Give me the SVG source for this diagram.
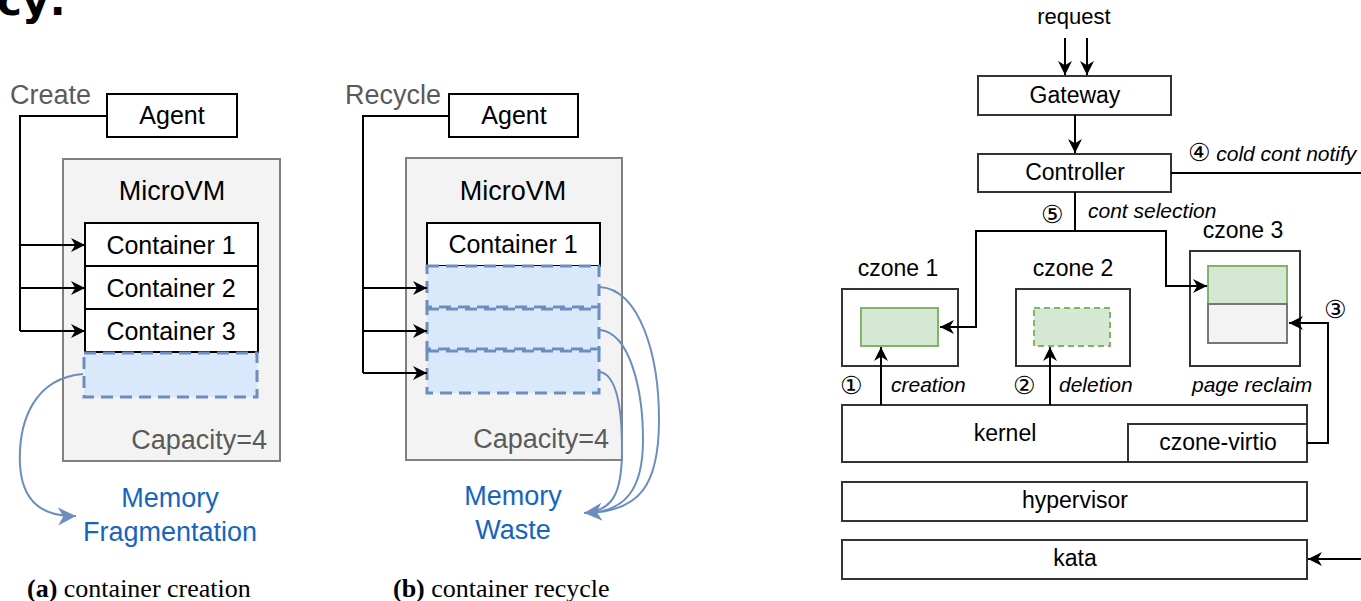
<svg xmlns="http://www.w3.org/2000/svg" width="1361" height="601" viewBox="0 0 1361 601">
<defs>
<style>
.s{font-family:"Liberation Sans",Arial,sans-serif}
.b{fill:#fff;stroke:#000;stroke-width:2}
.rb{fill:#fff;stroke:#333;stroke-width:2}
.vm{fill:#f3f3f3;stroke:#808080;stroke-width:2}
.dash{fill:#dae8fc;stroke:#6c8ebf;stroke-width:3;stroke-dasharray:12,7}
.ln{fill:none;stroke:#000;stroke-width:2}
.cv{fill:none;stroke:#6c8ebf;stroke-width:2}
.g{fill:#d5e8d4;stroke:#82b366;stroke-width:2}
.t{font-family:"Liberation Sans",Arial,sans-serif;fill:#000}
.it{font-family:"Liberation Sans",Arial,sans-serif;font-style:italic;fill:#000;font-size:21px}
.ci{font-family:"DejaVu Sans",sans-serif;font-style:normal}
.blue{font-family:"Liberation Sans",Arial,sans-serif;fill:#1565c0;font-size:27px}
.gray{font-family:"Liberation Sans",Arial,sans-serif;fill:#5a5a5a;font-size:27px}
.cap{font-family:"Liberation Serif","Times New Roman",serif;font-size:26px;fill:#000}
</style>
<marker id="ar" viewBox="0 0 10 10" refX="10" refY="5" markerWidth="14" markerHeight="14" markerUnits="userSpaceOnUse" orient="auto">
<path d="M0,0 L10,5 L0,10 L3,5 z" fill="#000"/>
</marker>
<marker id="arb" viewBox="0 0 10 10" refX="10" refY="5" markerWidth="18" markerHeight="18" markerUnits="userSpaceOnUse" orient="auto">
<path d="M0,0 L10,5 L0,10 L3,5 z" fill="#6c8ebf"/>
</marker>
</defs>

<text x="-3" y="15" font-family="DejaVu Sans,sans-serif" font-weight="bold" font-size="42" fill="#000">cy:</text>

<!-- Panel (a) -->
<g id="a-create-label"><text x="10" y="104" class="gray">Create</text></g>
<g id="a-agent"><rect x="107" y="94" width="130" height="43" class="b"/><text x="172" y="124" class="t" font-size="25" text-anchor="middle">Agent</text></g>
<g id="a-microvm"><rect x="63" y="159" width="217" height="302" class="vm"/><text x="172" y="200" class="t" font-size="27" text-anchor="middle">MicroVM</text>
<text x="267" y="449" class="gray" text-anchor="end">Capacity=4</text></g>
<g id="a-c1"><rect x="85" y="223" width="173" height="43" class="b"/><text x="171" y="254" class="t" font-size="25" text-anchor="middle">Container 1</text></g>
<g id="a-c2"><rect x="85" y="266" width="173" height="43" class="b"/><text x="171" y="297" class="t" font-size="25" text-anchor="middle">Container 2</text></g>
<g id="a-c3"><rect x="85" y="309" width="173" height="43" class="b"/><text x="171" y="340" class="t" font-size="25" text-anchor="middle">Container 3</text></g>
<g id="a-free"><rect x="84" y="353" width="173" height="44" class="dash"/></g>
<g id="a-mem"><text x="170" y="507" class="blue" text-anchor="middle">Memory</text><text x="170" y="541" class="blue" text-anchor="middle">Fragmentation</text></g>
<g id="a-caption"><text x="27" y="597" class="cap"><tspan font-weight="bold">(a)</tspan> container creation</text></g>

<!-- Panel (b) -->
<g id="b-label"><text x="345" y="104" class="gray">Recycle</text></g>
<g id="b-agent"><rect x="449" y="94" width="129" height="43" class="b"/><text x="514" y="124" class="t" font-size="25" text-anchor="middle">Agent</text></g>
<g id="b-microvm"><rect x="406" y="158" width="216" height="302" class="vm"/><text x="513" y="200" class="t" font-size="27" text-anchor="middle">MicroVM</text>
<text x="609" y="448" class="gray" text-anchor="end">Capacity=4</text></g>
<g id="b-c1"><rect x="427" y="223" width="173" height="43" class="b"/><text x="513" y="253" class="t" font-size="25" text-anchor="middle">Container 1</text></g>
<g id="b-f1"><rect x="427" y="266" width="172" height="41" class="dash"/></g>
<g id="b-f2"><rect x="427" y="309" width="172" height="40" class="dash"/></g>
<g id="b-f3"><rect x="427" y="351" width="172" height="42" class="dash"/></g>
<g id="b-mem"><text x="513" y="505" class="blue" text-anchor="middle">Memory</text><text x="513" y="539" class="blue" text-anchor="middle">Waste</text></g>
<g id="b-caption"><text x="393" y="597" class="cap"><tspan font-weight="bold">(b)</tspan> container recycle</text></g>

<!-- Right panel -->
<g id="request"><text x="1074" y="24" class="t" font-size="22" text-anchor="middle">request</text></g>
<g id="gateway"><rect x="978" y="76" width="193" height="39" class="rb"/><text x="1075" y="103" class="t" font-size="23" text-anchor="middle">Gateway</text></g>
<g id="controller"><rect x="978" y="154" width="193" height="38" class="rb"/><text x="1075" y="180" class="t" font-size="23" text-anchor="middle">Controller</text></g>
<g id="czone1"><text x="898" y="276" class="t" font-size="23" text-anchor="middle">czone 1</text><rect x="842" y="289" width="116" height="77" class="rb"/><rect x="861" y="308" width="77" height="38" class="g"/></g>
<g id="czone2"><text x="1073" y="276" class="t" font-size="23" text-anchor="middle">czone 2</text><rect x="1016" y="289" width="114" height="77" class="rb"/><rect x="1034" y="308" width="76" height="38" class="g" stroke-dasharray="6,4"/></g>
<g id="czone3"><text x="1243" y="238" class="t" font-size="23" text-anchor="middle">czone 3</text><rect x="1190" y="251" width="110" height="115" class="rb"/><rect x="1208" y="266" width="79" height="38" class="g"/><rect x="1208" y="304" width="79" height="39" fill="#f3f3f3" stroke="#777" stroke-width="2"/></g>
<g id="kernel"><rect x="842" y="405" width="465" height="57" class="rb"/><text x="1005" y="441" class="t" font-size="23" text-anchor="middle">kernel</text></g>
<g id="czone-virtio"><rect x="1128" y="424" width="179" height="38" class="rb"/><text x="1218" y="450" class="t" font-size="23" text-anchor="middle">czone-virtio</text></g>
<g id="hypervisor"><rect x="842" y="482" width="465" height="39" class="rb"/><text x="1075" y="508" class="t" font-size="23" text-anchor="middle">hypervisor</text></g>
<g id="kata"><rect x="842" y="540" width="465" height="39" class="rb"/><text x="1075" y="566" class="t" font-size="23" text-anchor="middle">kata</text></g>

<g id="labels">
<text x="1188" y="161" class="it"><tspan class="ci" font-size="25">④</tspan> cold cont notify</text>
<text x="1041" y="223" class="ci" font-size="25">⑤</text>
<text x="1088" y="218" class="it">cont selection</text>
<text x="1324" y="318" class="ci" font-size="25">③</text>
<text x="840" y="394" class="ci" font-size="25">①</text>
<text x="891" y="392" class="it">creation</text>
<text x="1013" y="394" class="ci" font-size="25">②</text>
<text x="1059" y="392" class="it">deletion</text>
<text x="1192" y="392" class="it">page reclaim</text>
</g>

<!-- Connectors -->
<g id="connectors">
<path class="ln" d="M107,116 H20 V331"/>
<path class="ln" d="M20,245 H85" marker-end="url(#ar)"/>
<path class="ln" d="M20,288 H85" marker-end="url(#ar)"/>
<path class="ln" d="M20,331 H85" marker-end="url(#ar)"/>
<path class="cv" d="M83,374 C35,378 18,420 20,465 C22,500 40,517 76,516" marker-end="url(#arb)"/>

<path class="ln" d="M449,116 H363 V373"/>
<path class="ln" d="M363,288 H427" marker-end="url(#ar)"/>
<path class="ln" d="M363,331 H427" marker-end="url(#ar)"/>
<path class="ln" d="M363,373 H427" marker-end="url(#ar)"/>
<path class="cv" d="M600,287 C640,290 659,355 659,420 C659,485 640,511 588,513"/>
<path class="cv" d="M600,330 C630,333 643,390 643,440 C643,490 625,511 588,513"/>
<path class="cv" d="M600,372 C617,375 622,410 622,450 C622,495 612,511 584,513" marker-end="url(#arb)"/>

<path class="ln" d="M1065,38 V75" marker-end="url(#ar)"/>
<path class="ln" d="M1087,38 V75" marker-end="url(#ar)"/>
<path class="ln" d="M1075,115 V153" marker-end="url(#ar)"/>
<path class="ln" d="M1171,173 H1361"/>
<path class="ln" d="M1075,192 V231"/>
<path class="ln" d="M1075,231 H976 V327 H940" marker-end="url(#ar)"/>
<path class="ln" d="M1075,231 H1166 V286 H1207" marker-end="url(#ar)"/>
<path class="ln" d="M881,405 V347" marker-end="url(#ar)"/>
<path class="ln" d="M1050,405 V347" marker-end="url(#ar)"/>
<path class="ln" d="M1307,443 H1328 V323 H1289" marker-end="url(#ar)"/>
<path class="ln" d="M1361,559 H1308" marker-end="url(#ar)"/>
</g>
</svg>
